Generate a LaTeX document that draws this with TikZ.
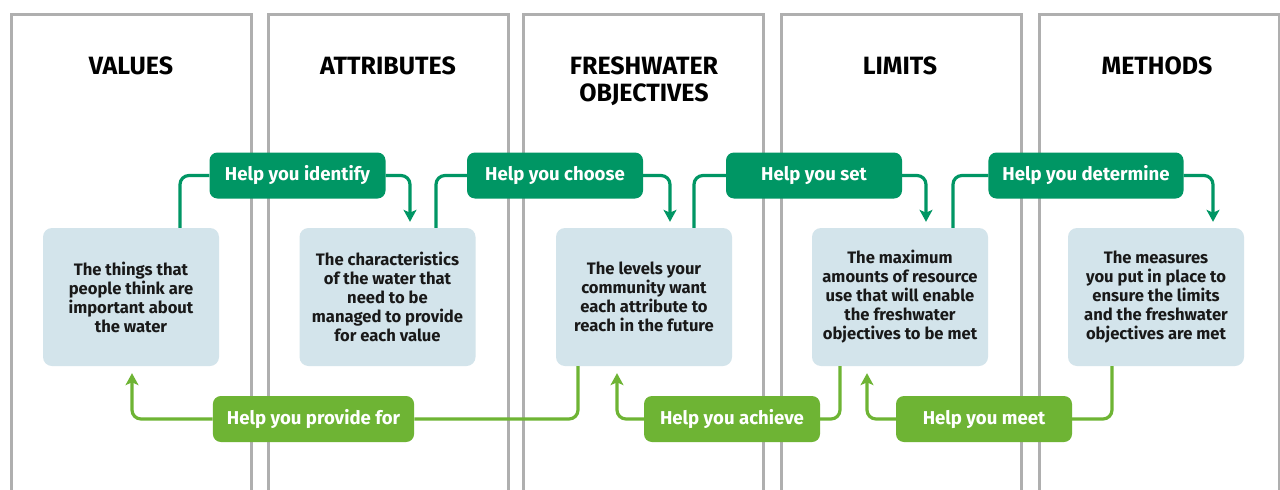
\documentclass[tikz,border=0pt]{standalone}
\usepackage{fontspec}
\setmainfont{Fira Sans}
\usetikzlibrary{arrows.meta}
\definecolor{dkgreen}{RGB}{0,150,100}
\definecolor{ltgreen}{RGB}{110,180,52}
\definecolor{paleblue}{RGB}{211,228,235}
\definecolor{panelgray}{RGB}{175,175,175}
\tikzset{
	panel/.style={draw=panelgray,line width=3pt},
	heading/.style={font=\bfseries\fontsize{25}{27}\selectfont,align=center,anchor=north,inner sep=0pt},
	infobox/.style={fill=paleblue,rounded corners=9pt,minimum width=176pt,minimum height=138pt,
		align=center,text=black!90,font=\bfseries\fontsize{16.6}{19}\selectfont},
	helplabel/.style={rounded corners=8pt,minimum width=176pt,minimum height=46pt,inner xsep=14pt,
		text=white,font=\bfseries\fontsize{18.6}{20}\selectfont},
	toplabel/.style={helplabel,fill=dkgreen},
	botlabel/.style={helplabel,fill=ltgreen},
	dkline/.style={draw=dkgreen,line width=3.2pt,rounded corners=9pt},
	ltline/.style={draw=ltgreen,line width=3.2pt,rounded corners=9pt},
}
\begin{document}
\begin{tikzpicture}[x=1pt,y=-1pt,>={Stealth[length=12pt,width=13pt,inset=3pt]}]
	\useasboundingbox[fill=white] (0,0) rectangle (1280,490);
	% columns
	\foreach \x in {11,268,523,781,1039}
		\draw[panel] (\x,492) |- (\x+240,14) -- (\x+240,492);
	\node[heading] (hv) at (131,57) {VALUES};
	\node[heading] (ha) at (388,57) {ATTRIBUTES};
	\node[heading] (hfo) at (644,57) {FRESHWATER\\OBJECTIVES};
	\node[heading] (hl) at (900,57) {LIMITS};
	\node[heading] (hm) at (1157,57) {METHODS};
	% boxes
	\node[infobox] (v) at (131,297) {The things that\\people think are\\important about\\the water};
	\node[infobox] (a) at (387.5,297) {The characteristics\\of the water that\\need to be\\managed to provide\\for each value};
	\node[infobox] (fo) at (644,297) {The levels your\\community want\\each attribute to\\reach in the future};
	\node[infobox] (l) at (900,297) {The maximum\\amounts of resource\\use that will enable\\the freshwater\\objectives to be met};
	\node[infobox] (m) at (1156,297) {The measures\\you put in place to\\ensure the limits\\and the freshwater\\objectives are met};
	% forward links
	\node[toplabel] (idf) at (297.5,175.5) {Help you identify};
	\node[toplabel] (chs) at (555,175.5) {Help you choose};
	\node[toplabel] (set) at (814,175.5) {Help you set};
	\node[toplabel] (det) at (1086,175.5) {Help you determine};
	\draw[dkline] ([xshift=49pt]v.north) |- (idf.west);
	\draw[dkline,->,shorten >=6pt] (idf.east) -| ([xshift=22.5pt]a.north);
	\draw[dkline] ([xshift=48.5pt]a.north) |- (chs.west);
	\draw[dkline,->,shorten >=6pt] (chs.east) -| ([xshift=26pt]fo.north);
	\draw[dkline] ([xshift=50pt]fo.north) |- (set.west);
	\draw[dkline,->,shorten >=6pt] (set.east) -| ([xshift=26pt]l.north);
	\draw[dkline] ([xshift=53pt]l.north) |- (det.west);
	\draw[dkline,->,shorten >=6pt] (det.east) -| ([xshift=57pt]m.north);
	% backward links
	\node[botlabel] (prov) at (313.5,419) {Help you provide for};
	\node[botlabel] (ach) at (732,419) {Help you achieve};
	\node[botlabel] (meet) at (984,419) {Help you meet};
	\draw[ltline] ([xshift=-66pt]fo.south) |- (prov.east);
	\draw[ltline,->,shorten >=7pt] (prov.west) -| ([xshift=1pt]v.south);
	\draw[ltline] ([xshift=-60pt]l.south) |- (ach.east);
	\draw[ltline,->,shorten >=7pt] (ach.west) -| ([xshift=-27pt]fo.south);
	\draw[ltline] ([xshift=-44pt]m.south) |- (meet.east);
	\draw[ltline,->,shorten >=7pt] (meet.west) -| ([xshift=-33pt]l.south);
\end{tikzpicture}
\end{document}
